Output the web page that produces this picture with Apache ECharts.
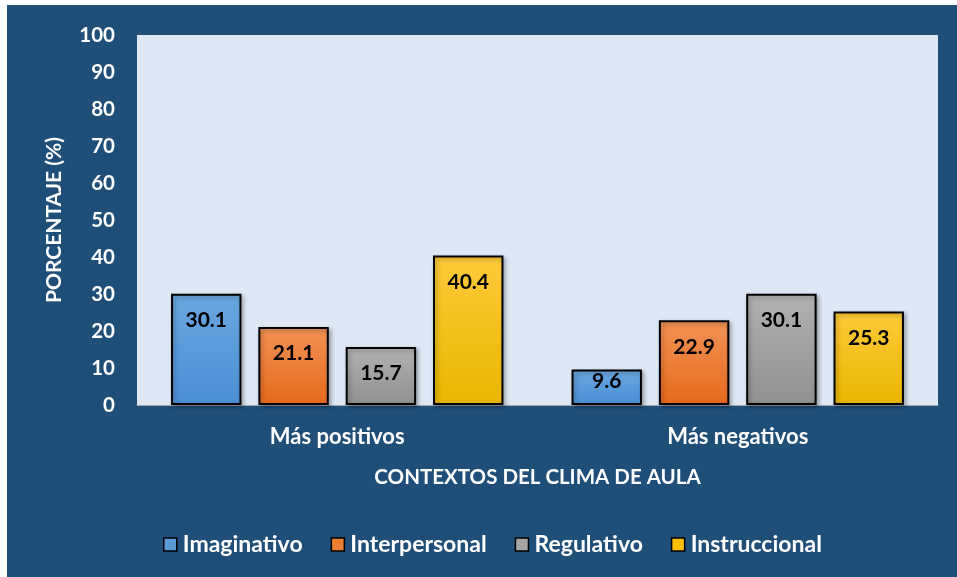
<!DOCTYPE html>
<html>
<head>
<meta charset="utf-8">
<script src="https://cdn.jsdelivr.net/npm/echarts@6/dist/echarts.min.js"></script>
<style>
html,body{margin:0;padding:0;background:#fff;}
#c{width:957px;height:577px;}
</style>
</head>
<body>
<div id="c"></div>
<script>
const categories = ['Más positivos', 'Más negativos'];
const seriesNames = ['Imaginativo', 'Interpersonal', 'Regulativo', 'Instruccional'];
const imaginativo = [30.1, 9.6];
const interpersonal = [21.1, 22.9];
const regulativo = [15.7, 30.1];
const instruccional = [40.4, 25.3];
const yTicks = [0, 10, 20, 30, 40, 50, 60, 70, 80, 90, 100];

const values = [imaginativo, interpersonal, regulativo, instruccional];
const gradients = [
  ['#6aa7e0', '#4a8fd4'],
  ['#f29256', '#e56a1c'],
  ['#b2b2b2', '#909090'],
  ['#ffca3a', '#e8b600']
];
const legendColors = ['#5b9bd5', '#ed7d31', '#a5a5a5', '#ffc000'];
const FONT = 'Lato, "Open Sans", sans-serif';

const chart = echarts.init(document.getElementById('c'));
const series = values.map((vals, i) => ({
  name: seriesNames[i],
  type: 'bar',
  barGap: '24%',
  barCategoryGap: '17%',
  data: vals.map(v => ({
    value: v,
    label: { distance: v < 12 ? 1 : 16 }
  })),
  itemStyle: {
    color: new echarts.graphic.LinearGradient(0, 0, 0, 1, [
      { offset: 0, color: gradients[i][0] },
      { offset: 1, color: gradients[i][1] }
    ]),
    borderColor: '#000',
    borderWidth: 2,
    shadowBlur: 4,
    shadowOffsetX: 2,
    shadowOffsetY: 2,
    shadowColor: 'rgba(0,0,0,0.3)'
  },
  label: {
    show: true,
    position: 'insideTop',
    color: '#000',
    fontFamily: FONT,
    fontWeight: 'bold',
    fontSize: 21,
    formatter: p => p.value.toFixed(1)
  }
}));

chart.setOption({
  backgroundColor: '#fff',
  animation: false,
  graphic: [{
    type: 'rect',
    z: -10,
    shape: { x: 7, y: 5, width: 950, height: 572 },
    style: { fill: '#1f4e79' }
  }],
  grid: {
    left: 137, right: 19, top: 35, bottom: 172,
    show: true, backgroundColor: '#dde8f4', borderWidth: 0
  },
  legend: {
    data: seriesNames.map((n, i) => ({
      name: n,
      itemStyle: { color: legendColors[i], borderColor: '#000', borderWidth: 1.5 }
    })),
    left: 163,
    top: 533,
    padding: 0,
    icon: 'rect',
    itemWidth: 13,
    itemHeight: 13,
    itemGap: 28,
    textStyle: { color: '#fff', fontFamily: FONT, fontWeight: 'bold', fontSize: 23, padding: [0, 0, 0, 1] }
  },
  xAxis: {
    type: 'category',
    data: categories,
    name: 'CONTEXTOS DEL CLIMA DE AULA',
    nameLocation: 'middle',
    nameGap: 62,
    nameTextStyle: { color: '#fff', fontFamily: FONT, fontWeight: 'bold', fontSize: 20.5 },
    axisLine: { show: true, lineStyle: { color: '#9aa8b8', width: 1 } },
    axisTick: { show: false },
    axisLabel: { color: '#fff', fontFamily: FONT, fontWeight: 'bold', fontSize: 22, margin: 21 }
  },
  yAxis: {
    type: 'value',
    min: yTicks[0],
    max: yTicks[yTicks.length - 1],
    interval: 10,
    name: 'PORCENTAJE (%)',
    nameLocation: 'middle',
    nameGap: 72,
    nameTextStyle: { color: '#fff', fontFamily: FONT, fontWeight: 'bold', fontSize: 21 },
    axisLine: { show: false },
    axisTick: { show: false },
    splitLine: { show: false },
    axisLabel: { color: '#fff', fontFamily: FONT, fontWeight: 'bold', fontSize: 20.5, margin: 22 }
  },
  series: series
});
</script>
</body>
</html>
